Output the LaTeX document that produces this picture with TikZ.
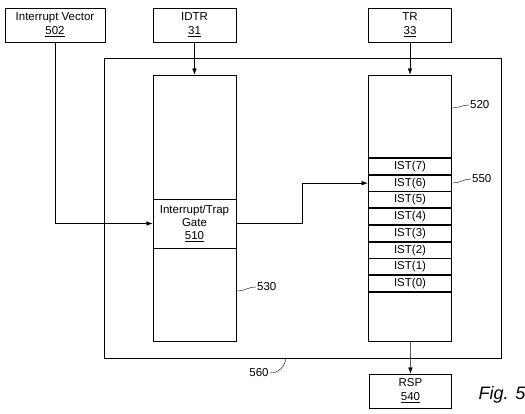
\documentclass[tikz,border=0pt]{standalone}
\usepackage{fontspec}
\setmainfont{Liberation Sans}
\usetikzlibrary{arrows.meta}
\tikzset{>={Latex[length=6pt,width=4.5pt]}}
\tikzset{box/.style = {shape=rectangle,draw,line width=1pt,minimum width=83pt,minimum height=34pt,inner sep=0pt,align=center,font=\fontsize{11.5}{14}\selectfont}}
\tikzset{column/.style = {box,minimum height=266pt}}
\tikzset{slot/.style = {box,line width=1.8pt,minimum height=16.75pt}}
\tikzset{tag/.style = {font=\fontsize{11.5}{14}\selectfont,inner sep=1pt}}

\begin{document}
\begin{tikzpicture}[x=1pt,y=-1pt]
                    \useasboundingbox (0,0) rectangle (525,413);
                    \node[box,minimum width=100pt] (IV) at (55,25) {Interrupt Vector\\\underline{502}};
                    \node[box] (IDTR) at (194.5,25) {IDTR\\\underline{31}};
                    \node[box] (TR) at (410,25) {TR\\\underline{33}};

                    \node[box,minimum width=397pt,minimum height=300pt] (PSB) at (302.5,208) {};
                    \node[column] (IDT) at (194.5,208) {};
                    \node[box,minimum height=49pt,font=\fontsize{11.5}{13}\selectfont] (Gate) at (194.5,223.5) {Interrupt/Trap\\Gate\\\underline{510}};
                    \node[column] (TSS) at (410,208) {};
                    \foreach \i [count=\k from 0] in {7,6,...,0}
                        \node[slot] (IST\i) at (410,166.4+16.75*\k) {IST(\i)};

                    \node[box,minimum width=82pt] (RSP) at (410.5,391) {RSP\\\underline{540}};
                    \node[font=\fontsize{18}{20}\selectfont\itshape] (Fig) at (502,395) {Fig. 5};

                    \draw[->] (IV.south) |- (Gate.west);
                    \coordinate (Jog) at (302,223.5);
                    \draw[->] (Gate.east) -- (Jog) |- (IST6.west);
                    \draw[->] (IDTR) -- (IDT);
                    \draw[->] (TR) -- (TSS);
                    \draw[->] (TSS) -- (RSP);

                    \node[tag,anchor=west] (L520) at (469,105) {520};
                    \node[tag,anchor=west] (L550) at (471,179) {550};
                    \node[tag,anchor=west] (L530) at (256,287) {530};
                    \node[tag] (L560) at (259,373) {560};
                    \coordinate (E520) at (452,108);
                    \coordinate (E550) at (453,183);
                    \coordinate (E530) at (237,291);
                    \coordinate (E560) at (286,358);
                    \draw (L520.west) to[out=180,in=0] (E520);
                    \draw (L550.west) to[out=180,in=0] (E550);
                    \draw (L530.west) to[out=180,in=0] (E530);
                    \draw (L560.east) to[out=0,in=-95] (E560);
                \end{tikzpicture}
\end{document}
